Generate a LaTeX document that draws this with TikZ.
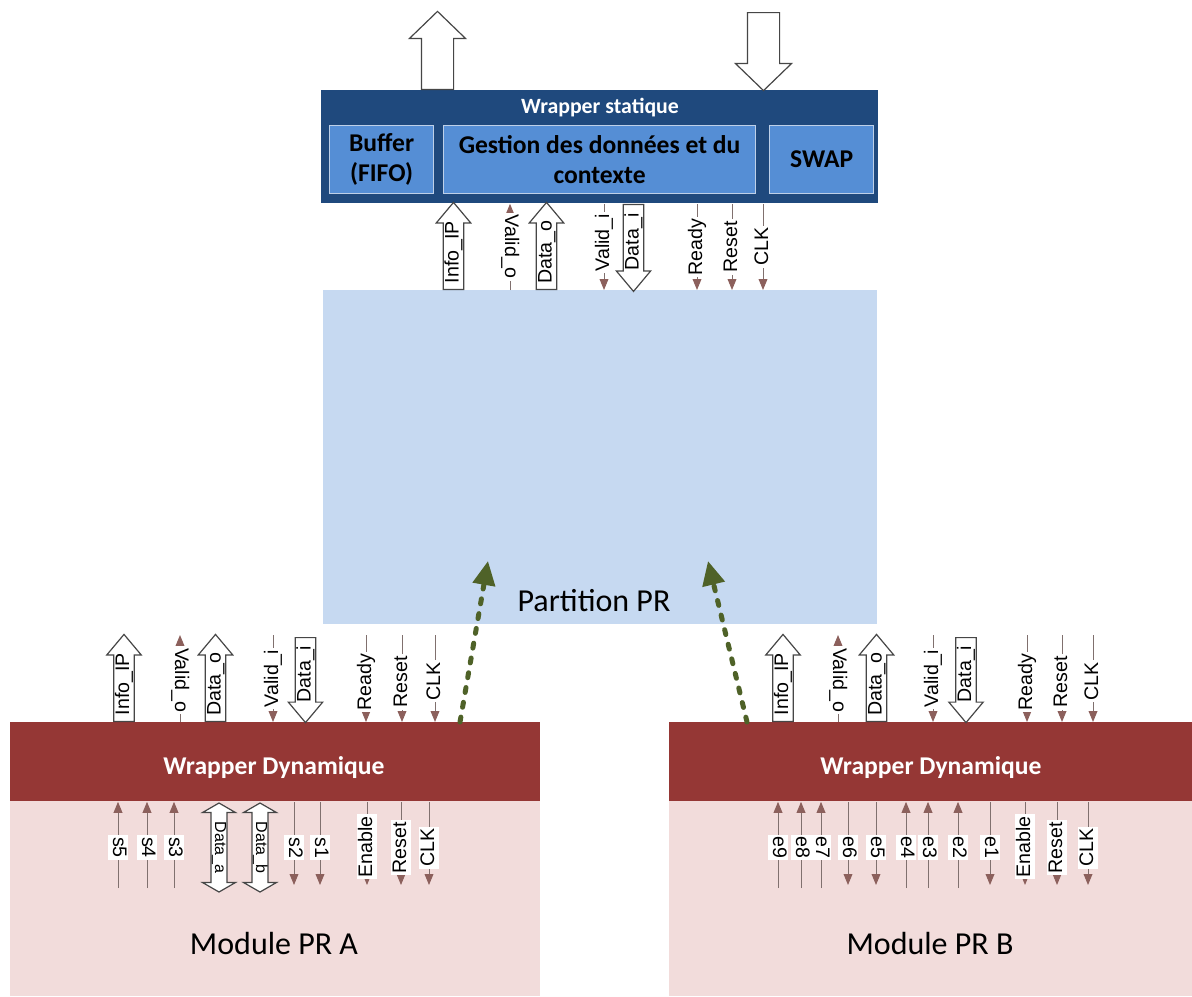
\documentclass[tikz,border=0pt]{standalone}
\usepackage{fontspec}
\setmainfont{Carlito}
\newfontfamily\sigfont{Liberation Sans}
\usetikzlibrary{arrows.meta, shapes.arrows}
\definecolor{wsblue}{RGB}{31,73,125}
\definecolor{subblue}{RGB}{85,142,213}
\definecolor{subline}{RGB}{190,208,232}
\definecolor{prblue}{RGB}{198,217,241}
\definecolor{dwred}{RGB}{149,55,53}
\definecolor{modpink}{RGB}{242,220,219}
\definecolor{sigline}{RGB}{128,112,110}
\definecolor{sigtip}{RGB}{140,96,92}
\definecolor{busline}{RGB}{70,70,70}
\definecolor{prgreen}{RGB}{79,98,40}
\tikzset{
    zone/.style = {rectangle, anchor=north west, inner sep=0pt},
    sub/.style = {rectangle, anchor=north west, fill=subblue, draw=subline, line width=0.6pt, minimum width=52pt, minimum height=34pt, align=center, font=\fontsize{12.8}{15}\selectfont\bfseries},
    ttl/.style = {text=white, font=\fontsize{12.8}{14}\selectfont\bfseries},
    big/.style = {font=\fontsize{16}{18}\selectfont},
    sig/.style = {draw=sigline, line width=0.5pt, -{Triangle[length=5.5pt, width=4.4pt, color=sigtip]}},
    lab/.style = {fill=white, inner xsep=1pt, inner ysep=0.5pt, font=\sigfont\fontsize{9.8}{11}\selectfont, text height=7pt, text depth=2pt},
    bus/.style = {single arrow, draw=busline, fill=white, line width=0.6pt, font=\sigfont\fontsize{9.8}{11}\selectfont, text height=7pt, text depth=2pt, inner ysep=0.3pt, inner xsep=1pt, single arrow head extend=3.5pt, single arrow tip angle=80, minimum height=43.5pt, rotate=90, anchor=tail},
    dbus/.style = {double arrow, draw=busline, fill=white, line width=0.6pt, font=\sigfont\fontsize{8}{9}\selectfont, text height=5.4pt, text depth=1.6pt, inner ysep=0.2pt, inner xsep=1pt, double arrow head extend=4.2pt, double arrow tip angle=120, minimum height=44.5pt, rotate=-90},
    bigbus/.style = {single arrow, draw=busline, fill=white, line width=0.6pt, inner xsep=0pt, inner ysep=7.75pt, text height=0pt, text depth=0pt, single arrow head extend=6pt, single arrow tip angle=92, minimum height=39pt, rotate=90, anchor=tail},
    prpath/.style = {draw=prgreen, line width=2.5pt, line cap=round, dash pattern=on 2.5pt off 5pt, -{Triangle[length=12pt, width=11pt, color=prgreen]}}
}

\begin{document}
\begin{tikzpicture}[x=0.5pt, y=-0.5pt]
\useasboundingbox (0,0) rectangle (1192,996);

% Static wrapper
\node[zone, fill=wsblue, minimum width=278.5pt, minimum height=56.5pt] (ws) at (321,90) {};
\node[ttl, font=\fontsize{10.9}{12}\selectfont\bfseries] (wstitle) at (600,108) {Wrapper statique};
\node[sub] (buf) at (329,125) {Buffer\\(FIFO)};
\node[sub, minimum width=156pt] (gest) at (443,125) {Gestion des données et du\\contexte};
\node[sub] (swap) at (769,125) {SWAP};
\node[bigbus] (wsout) at (437.5,0 |- ws.north) {};
\node[bigbus, shape border rotate=180] (wsin) at (763.5,12) {};

% Partition PR
\node[zone, fill=prblue, minimum width=277pt, minimum height=167pt] (part) at (323,290) {};
\node[big] (partlbl) at (594,601) {Partition PR};

% Dynamic wrappers and modules
\node[zone, fill=dwred, minimum width=265pt, minimum height=39.5pt] (dwa) at (10,722) {};
\node[zone, fill=modpink, minimum width=265pt, minimum height=97.5pt] (moda) at (10,801) {};
\node[ttl] (dwatitle) at (274,768) {Wrapper Dynamique};
\node[big] (modalbl) at (274,943) {Module PR A};
\node[zone, fill=dwred, minimum width=261.5pt, minimum height=39.5pt] (dwb) at (669,722) {};
\node[zone, fill=modpink, minimum width=261.5pt, minimum height=97.5pt] (modb) at (669,801) {};
\node[ttl] (dwbtitle) at (931,768) {Wrapper Dynamique};
\node[big] (modblbl) at (930,943) {Module PR B};

% Static wrapper <-> partition
\node[bus] (sinfo) at (453.5,0 |- part.north) {Info\_IP};
\draw[sig] (510,0 |- part.north) -- (510,0 |- ws.south) node[lab, rotate=-90, pos=0.5] (svalo) {Valid\_o};
\node[bus] (sdatao) at (546.5,0 |- part.north) {Data\_o};
\draw[sig] (604,0 |- ws.south) -- (604,0 |- part.north) node[lab, rotate=90, pos=0.45] (svali) {Valid\_i};
\node[bus, shape border rotate=180] (sdatai) at (633.5,0 |- ws.south) {Data\_i};
\draw[sig] (697,0 |- ws.south) -- (697,0 |- part.north) node[lab, rotate=90, pos=0.5] (sready) {Ready};
\draw[sig] (732,0 |- ws.south) -- (732,0 |- part.north) node[lab, rotate=90, pos=0.5] (sreset) {Reset};
\draw[sig] (763,0 |- ws.south) -- (763,0 |- part.north) node[lab, rotate=90, pos=0.5] (sclk) {CLK};

% Wrapper A, top ports
\node[bus] (ainfo) at (124,0 |- dwa.north) {Info\_IP};
\draw[sig] (180,0 |- dwa.north) -- (180,635) node[lab, rotate=-90, pos=0.48] (avalo) {Valid\_o};
\node[bus] (adatao) at (215.5,0 |- dwa.north) {Data\_o};
\draw[sig] (273,635) -- (273,0 |- dwa.north) node[lab, rotate=90, pos=0.5] (avali) {Valid\_i};
\node[bus, shape border rotate=180, minimum height=42.5pt] (adatai) at (305.5,637) {Data\_i};
\draw[sig] (366,635) -- (366,0 |- dwa.north) node[lab, rotate=90, pos=0.54] (aready) {Ready};
\draw[sig] (402,635) -- (402,0 |- dwa.north) node[lab, rotate=90, pos=0.54] (areset) {Reset};
\draw[sig] (435,635) -- (435,0 |- dwa.north) node[lab, rotate=90, pos=0.53] (aclk) {CLK};
\coordinate (pra) at (488,561);
\draw[prpath] (460,0 |- dwa.north) -- (pra);

% Wrapper B, top ports
\node[bus] (binfo) at (783,0 |- dwb.north) {Info\_IP};
\draw[sig] (838,0 |- dwb.north) -- (838,635) node[lab, rotate=-90, pos=0.48] (bvalo) {Valid\_o};
\node[bus] (bdatao) at (876.5,0 |- dwb.north) {Data\_o};
\draw[sig] (933,635) -- (933,0 |- dwb.north) node[lab, rotate=90, pos=0.5] (bvali) {Valid\_i};
\node[bus, shape border rotate=180, minimum height=42.5pt] (bdatai) at (966,637) {Data\_i};
\draw[sig] (1027,635) -- (1027,0 |- dwb.north) node[lab, rotate=90, pos=0.54] (bready) {Ready};
\draw[sig] (1062,635) -- (1062,0 |- dwb.north) node[lab, rotate=90, pos=0.54] (breset) {Reset};
\draw[sig] (1093,635) -- (1093,0 |- dwb.north) node[lab, rotate=90, pos=0.53] (bclk) {CLK};
\coordinate (prb) at (708,561);
\draw[prpath] (747,0 |- dwb.north) -- (prb);

% Module A ports
\draw[sig] (118,888) -- (118,0 |- dwa.south) node[lab, rotate=-90, pos=0.47] (as5) {s5};
\draw[sig] (147,888) -- (147,0 |- dwa.south) node[lab, rotate=-90, pos=0.47] (as4) {s4};
\draw[sig] (174,888) -- (174,0 |- dwa.south) node[lab, rotate=-90, pos=0.47] (as3) {s3};
\node[dbus] (adataa) at (219,847.5) {Data\_a};
\node[dbus] (adatab) at (260,847.5) {Data\_b};
\draw[sig] (294,0 |- dwa.south) -- (294,885) node[lab, rotate=-90, pos=0.55] (as2) {s2};
\draw[sig] (320,0 |- dwa.south) -- (320,885) node[lab, rotate=-90, pos=0.55] (as1) {s1};
\draw[sig] (367,0 |- dwa.south) -- (367,885) node[lab, rotate=90, pos=0.54] (aen) {Enable};
\draw[sig] (401,0 |- dwa.south) -- (401,885) node[lab, rotate=90, pos=0.55] (arst) {Reset};
\draw[sig] (429,0 |- dwa.south) -- (429,885) node[lab, rotate=90, pos=0.55] (ack) {CLK};

% Module B ports
\draw[sig] (778,888) -- (778,0 |- dwb.south) node[lab, rotate=-90, pos=0.47] (be9) {e9};
\draw[sig] (801,888) -- (801,0 |- dwb.south) node[lab, rotate=-90, pos=0.47] (be8) {e8};
\draw[sig] (821,888) -- (821,0 |- dwb.south) node[lab, rotate=-90, pos=0.47] (be7) {e7};
\draw[sig] (848,0 |- dwb.south) -- (848,885) node[lab, rotate=-90, pos=0.55] (be6) {e6};
\draw[sig] (876,0 |- dwb.south) -- (876,885) node[lab, rotate=-90, pos=0.55] (be5) {e5};
\draw[sig] (906,888) -- (906,0 |- dwb.south) node[lab, rotate=-90, pos=0.47] (be4) {e4};
\draw[sig] (928,888) -- (928,0 |- dwb.south) node[lab, rotate=-90, pos=0.47] (be3) {e3};
\draw[sig] (958,888) -- (958,0 |- dwb.south) node[lab, rotate=-90, pos=0.47] (be2) {e2};
\draw[sig] (990,0 |- dwb.south) -- (990,885) node[lab, rotate=-90, pos=0.55] (be1) {e1};
\draw[sig] (1025,0 |- dwb.south) -- (1025,885) node[lab, rotate=90, pos=0.54] (ben) {Enable};
\draw[sig] (1057,0 |- dwb.south) -- (1057,885) node[lab, rotate=90, pos=0.55] (brst) {Reset};
\draw[sig] (1088,0 |- dwb.south) -- (1088,885) node[lab, rotate=90, pos=0.55] (bck) {CLK};
\end{tikzpicture}
\end{document}
